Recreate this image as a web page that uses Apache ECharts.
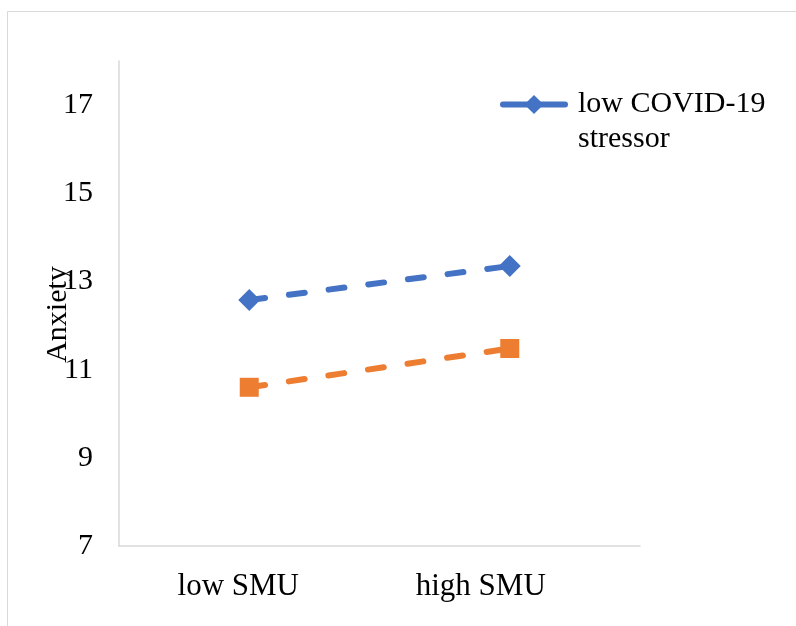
<!DOCTYPE html>
<html>
<head>
<meta charset="utf-8">
<script src="https://cdn.jsdelivr.net/npm/echarts@6/dist/echarts.min.js"></script>
<style>html,body{margin:0;padding:0;background:#fff}#c{width:796px;height:626px}</style>
</head>
<body>
<div id="c"></div>
<script>
const categories = ['low SMU', 'high SMU'];
const lowStressor = [12.58, 13.35];
const highStressor = [10.6, 11.48];
const seriesNames = ['low COVID-19 stressor', 'high COVID-19 stressor'];
const yTicks = [7, 9, 11, 13, 15, 17];

const FONT = '"Liberation Serif", "Times New Roman", serif';
const chart = echarts.init(document.getElementById('c'));
chart.setOption({
  animation: false,
  backgroundColor: '#fff',
  graphic: [{
    type: 'rect', silent: true,
    shape: { x: 7.5, y: 11.5, width: 900, height: 800 },
    style: { fill: 'none', stroke: '#d9d9d9', lineWidth: 1 }
  }],
  grid: { left: 119, right: 156, top: 61, bottom: 80 },
  legend: {
    data: [seriesNames[0]],
    left: 495, top: 47,
    itemWidth: 62, itemHeight: 24,
    itemGap: 10,
    lineStyle: { width: 6, type: 'solid', cap: 'round' },
    formatter: function (n) { return ' \n' + n.replace(' stressor', '\nstressor'); },
    textStyle: { fontFamily: FONT, fontSize: 30, color: '#000', lineHeight: 35, padding: [0, 0, 0, 8] }
  },
  xAxis: {
    type: 'category',
    data: categories,
    boundaryGap: true,
    axisLine: { lineStyle: { color: '#d9d9d9', width: 1.5 } },
    axisTick: { show: false },
    axisLabel: {
      fontFamily: FONT, fontSize: 31, color: '#000', margin: 25,
      formatter: function (v, i) { return '{l' + i + '|' + v + '}'; },
      rich: {
        l0: { fontFamily: FONT, fontSize: 31, color: '#000', padding: [0, 22, 0, 0] },
        l1: { fontFamily: FONT, fontSize: 31, color: '#000', padding: [0, 58, 0, 0] }
      }
    }
  },
  yAxis: {
    type: 'value',
    min: 7, max: 18, interval: 1,
    name: 'Anxiety',
    nameLocation: 'middle',
    nameGap: 46,
    nameMoveOverlap: false,
    nameTextStyle: { fontFamily: FONT, fontSize: 30, color: '#000', padding: [0, 22, 0, 0] },
    splitLine: { show: false },
    axisTick: { show: false },
    axisLine: { show: true, lineStyle: { color: '#d9d9d9', width: 1.5 } },
    axisLabel: {
      fontFamily: FONT, fontSize: 30, color: '#000', margin: 26,
      formatter: function (v) { return yTicks.indexOf(v) >= 0 ? String(v) : ''; }
    }
  },
  series: [{
    name: seriesNames[0],
    type: 'line',
    data: lowStressor,
    symbol: 'diamond', symbolSize: 22,
    itemStyle: { color: '#4472C4' },
    lineStyle: { color: '#4472C4', width: 6, type: [16, 24], cap: 'round' }
  }, {
    name: seriesNames[1],
    type: 'line',
    data: highStressor,
    symbol: 'rect', symbolSize: 19,
    itemStyle: { color: '#ED7D31' },
    lineStyle: { color: '#ED7D31', width: 6, type: [16, 24], cap: 'round' }
  }]
});
</script>
</body>
</html>
